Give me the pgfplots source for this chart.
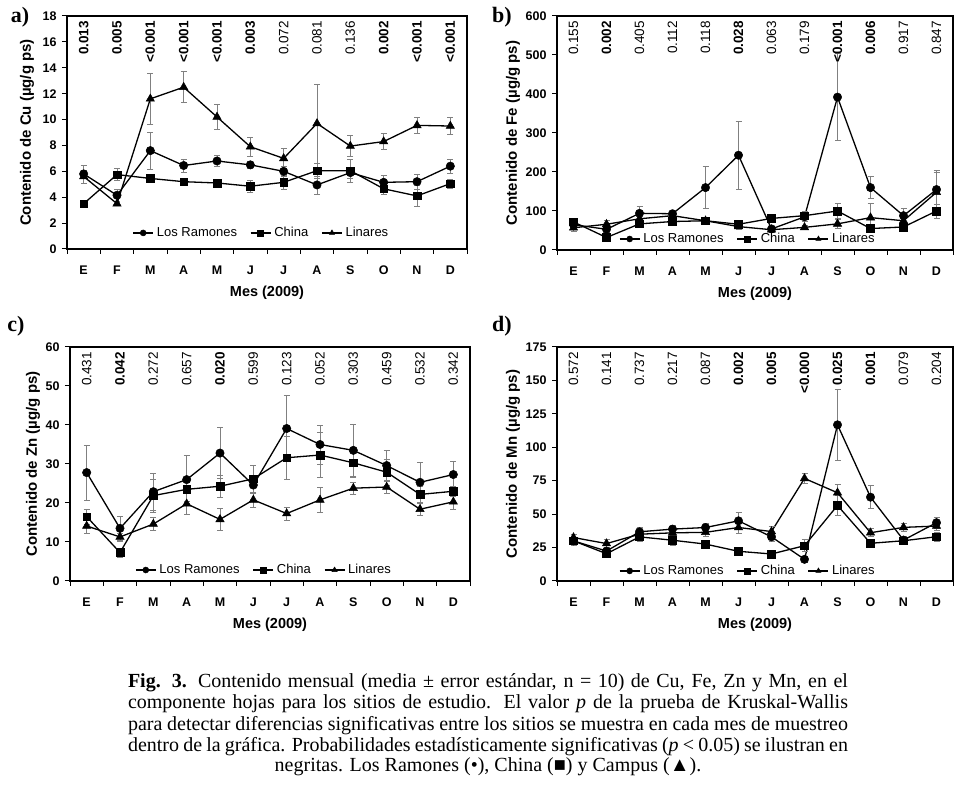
\documentclass[border=0pt]{standalone}
\usepackage{fontspec}
\setmainfont{Liberation Sans}
\newfontfamily\capfont{Liberation Serif}
\usepackage{pgfplots}
\usepackage{pgfplotstable}
\pgfplotsset{compat=1.18}

% x, Los Ramones, err, China, err, Linares, err
\pgfplotstableread{
x lr lre ch che li lie
0 5.8 0.7 3.5 0.1 5.6 0.5
1 4.15 0.5 5.75 0.45 3.5 0.1
2 7.6 1.45 5.45 0.3 11.6 2.0
3 6.45 0.5 5.2 0.3 12.5 1.2
4 6.8 0.4 5.1 0.3 10.2 0.95
5 6.5 0.3 4.85 0.45 7.9 0.75
6 6.0 0.4 5.15 0.55 7.0 0.8
7 4.95 0.7 6.05 0.55 9.7 3.05
8 5.9 0.4 6.05 0.9 7.95 0.8
9 5.15 0.55 4.65 0.45 8.3 0.6
10 5.2 0.55 4.1 0.8 9.55 0.65
11 6.4 0.55 5.05 0.35 9.5 0.65
}\cu
\pgfplotstableread{
x lr lre ch che li lie
0 65 10 72 8 57 8
1 53 12 32 5 66 10
2 94 17 67 7 80 8
3 93 8 73 6 88 8
4 160 54 75 6 75 6
5 243 87 66 10 60 8
6 54 8 81 10 52 6
7 85 12 88 10 58 6
8 392 112 100 20 67 12
9 160 28 55 5 83 38
10 88 20 59 5 75 8
11 155 50 100 18 148 52
}\fe
\pgfplotstableread{
x lr lre ch che li lie
0 27.8 7.1 16.5 2.0 14.1 1.8
1 13.5 3.0 7.3 1.1 11.3 1.0
2 22.9 4.7 21.9 4.2 14.6 1.7
3 26.0 6.2 23.5 3.0 19.8 2.8
4 32.8 6.5 24.3 2.8 15.8 2.9
5 24.6 2.0 26.2 3.5 20.8 2.0
6 39.1 8.5 31.6 5.6 17.3 1.7
7 35.0 5.0 32.3 5.7 20.8 3.1
8 33.5 6.6 30.3 3.7 23.8 1.5
9 29.6 3.9 27.9 3.3 24.1 1.5
10 25.3 5.2 22.2 2.0 18.4 1.5
11 27.3 3.4 23.0 1.2 20.3 1.8
}\zn
\pgfplotstableread{
x lr lre ch che li lie
0 30 3 30 2.5 32.5 2.5
1 22.4 3 20.4 2.5 28 3.5
2 36.8 3 33 3 35 3
3 38.8 3 30.5 4 36 3
4 40 3 27.6 3 36.4 3
5 45 6.5 22.2 3 40 4
6 33 3 20.2 3 37 4
7 16.2 2.5 26.4 4.5 76.7 3.5
8 116.8 26.5 56.5 7.5 66 6.5
9 62.7 8.5 28.2 3 36.1 3
10 30.6 3 30.1 3 40.1 3
11 43.6 4 33.1 3.5 41.1 3
}\mn

\pgfplotsset{
  panel/.style={
    scale only axis,
    clip=false,
    xmin=-0.5, xmax=11.5,
    xtick={-0.5,0.5,1.5,2.5,3.5,4.5,5.5,6.5,7.5,8.5,9.5,10.5,11.5},
    xticklabels={},
    extra x ticks={0,1,2,3,4,5,6,7,8,9,10,11},
    extra x tick labels={E,F,M,A,M,J,J,A,S,O,N,D},
    extra x tick style={major tick length=0pt},
    xtick pos=bottom, ytick pos=left,
    tick align=outside, major tick length=5pt,
    tick style={black, line width=1pt},
    axis line style={line width=1.2pt},
    /pgf/number format/assume math mode=true,
    tick label style={font=\bfseries\fontsize{12.5}{14}\selectfont},
    xticklabel style={anchor=center, yshift=-21pt},
    yticklabel style={anchor=east, xshift=-2pt},
    xlabel={Mes (2009)},
    xlabel style={font=\bfseries\fontsize{14.5}{16}\selectfont, at={(axis description cs:0.5,0)}, anchor=center, yshift=-44pt},
    ylabel style={font=\bfseries\fontsize{15}{17}\selectfont, at={(axis description cs:0,0.5)}, anchor=center},
    legend columns=3,
    legend style={draw=none, fill=none, anchor=center, inner sep=0pt,
      font=\fontsize{13}{15}\selectfont,
      /tikz/every even column/.append style={column sep=11pt},
      /tikz/every odd column/.append style={column sep=1pt}},
    legend image code/.code={\draw[mark repeat=2, mark phase=2, ##1, mark size=3pt]
      plot coordinates {(0pt,0pt) (10pt,0pt) (20pt,0pt)};},
    error bars/y dir=both, error bars/y explicit,
    error bars/error bar style={line width=0.6pt, gray},
    error bars/error mark options={rotate=90, gray, mark size=3pt, line width=0.6pt},
  },
  lr/.style={black, line width=1.3pt, mark=*, mark size=4.2pt, mark options={solid, fill=black, line width=0.5pt}},
  ch/.style={black, line width=1.3pt, mark=square*, mark size=3.8pt, mark options={solid, fill=black, line width=0.5pt}},
  li/.style={black, line width=1.3pt, mark=triangle*, mark size=4.8pt, mark options={solid, fill=black, line width=0.5pt}},
}

% p value label, rotated, hanging from the top of the axis
\newcommand\pv[3]{\node[rotate=90, anchor=east, inner sep=0pt, font=\fontsize{13.5}{15}\selectfont] at ([yshift=-5pt]axis cs:#1,#2) {#3};}

\begin{document}
\begin{tikzpicture}
\useasboundingbox (0,0) rectangle (962pt,796pt);

% a) Cu
\begin{axis}[panel, at={(67pt,547pt)}, anchor=south west, width=400pt, height=233pt,
  ymin=0, ymax=18, ytick={0,2,...,18}, ylabel={Contenido de Cu (µg/g ps)},
  ylabel style={yshift=40pt}, legend style={at={(0.486,0.069)}}]
\addplot[lr] table[x=x, y=lr, y error=lre] {\cu};
\addplot[ch] table[x=x, y=ch, y error=che] {\cu};
\addplot[li] table[x=x, y=li, y error=lie] {\cu};
\legend{Los Ramones, China, Linares}
\pv{0}{18}{\textbf{0.013}} \pv{1}{18}{\textbf{0.005}} \pv{2}{18}{\textbf{<0.001}}
\pv{3}{18}{\textbf{<0.001}} \pv{4}{18}{\textbf{<0.001}} \pv{5}{18}{\textbf{0.003}}
\pv{6}{18}{0.072} \pv{7}{18}{0.081} \pv{8}{18}{0.136}
\pv{9}{18}{\textbf{0.002}} \pv{10}{18}{\textbf{<0.001}} \pv{11}{18}{\textbf{<0.001}}
\end{axis}

% b) Fe
\begin{axis}[panel, at={(557pt,546pt)}, anchor=south west, width=396pt, height=234pt,
  ymin=0, ymax=600, ytick={0,100,...,600}, ylabel={Contenido de Fe (µg/g ps)},
  ylabel style={yshift=44pt}, legend style={at={(0.482,0.047)}}]
\addplot[lr] table[x=x, y=lr, y error=lre] {\fe};
\addplot[ch] table[x=x, y=ch, y error=che] {\fe};
\addplot[li] table[x=x, y=li, y error=lie] {\fe};
\legend{Los Ramones, China, Linares}
\pv{0}{600}{0.155} \pv{1}{600}{\textbf{0.002}} \pv{2}{600}{0.405}
\pv{3}{600}{0.112} \pv{4}{600}{0.118} \pv{5}{600}{\textbf{0.028}}
\pv{6}{600}{0.063} \pv{7}{600}{0.179} \pv{8}{600}{\textbf{<0.001}}
\pv{9}{600}{\textbf{0.006}} \pv{10}{600}{0.917} \pv{11}{600}{0.847}
\end{axis}

% c) Zn
\begin{axis}[panel, at={(70pt,215pt)}, anchor=south west, width=400pt, height=234pt,
  ymin=0, ymax=60, ytick={0,10,...,60}, ylabel={Contenido de Zn (µg/g ps)},
  ylabel style={yshift=37pt}, legend style={at={(0.485,0.047)}}]
\addplot[lr] table[x=x, y=lr, y error=lre] {\zn};
\addplot[ch] table[x=x, y=ch, y error=che] {\zn};
\addplot[li] table[x=x, y=li, y error=lie] {\zn};
\legend{Los Ramones, China, Linares}
\pv{0}{60}{0.431} \pv{1}{60}{\textbf{0.042}} \pv{2}{60}{0.272}
\pv{3}{60}{0.657} \pv{4}{60}{\textbf{0.020}} \pv{5}{60}{0.599}
\pv{6}{60}{0.123} \pv{7}{60}{0.052} \pv{8}{60}{0.303}
\pv{9}{60}{0.459} \pv{10}{60}{0.532} \pv{11}{60}{0.342}
\end{axis}

% d) Mn
\begin{axis}[panel, at={(557pt,215pt)}, anchor=south west, width=396pt, height=234pt,
  ymin=0, ymax=175, ytick={0,25,...,175}, ylabel={Contenido de Mn (µg/g ps)},
  ylabel style={yshift=44pt}, legend style={at={(0.482,0.043)}}]
\addplot[lr] table[x=x, y=lr, y error=lre] {\mn};
\addplot[ch] table[x=x, y=ch, y error=che] {\mn};
\addplot[li] table[x=x, y=li, y error=lie] {\mn};
\legend{Los Ramones, China, Linares}
\pv{0}{175}{0.572} \pv{1}{175}{0.141} \pv{2}{175}{0.737}
\pv{3}{175}{0.217} \pv{4}{175}{0.087} \pv{5}{175}{\textbf{0.002}}
\pv{6}{175}{\textbf{0.005}} \pv{7}{175}{\textbf{<0.000}} \pv{8}{175}{\textbf{0.025}}
\pv{9}{175}{\textbf{0.001}} \pv{10}{175}{0.079} \pv{11}{175}{0.204}
\end{axis}

% panel letters
\node[font=\capfont\bfseries\fontsize{22}{24}\selectfont] at (20pt,779pt) {a)};
\node[font=\capfont\bfseries\fontsize{22}{24}\selectfont] at (502pt,779pt) {b)};
\node[font=\capfont\bfseries\fontsize{22}{24}\selectfont] at (16pt,470pt) {c)};
\node[font=\capfont\bfseries\fontsize{22}{24}\selectfont] at (502pt,470pt) {d)};

% caption
\begin{scope}[every node/.style={anchor=base, inner sep=0pt, font=\capfont\fontsize{20}{21}\selectfont}]
\node at (488pt,108pt) {\makebox[720pt][s]{\textbf{Fig. 3.} Contenido mensual (media ± error estándar, n = 10) de Cu, Fe, Zn y Mn, en el}};
\node at (488pt,87pt) {\makebox[720pt][s]{componente hojas para los sitios de estudio. El valor \textit{p} de la prueba de Kruskal-Wallis}};
\node at (488pt,66pt) {\makebox[720pt][s]{para detectar diferencias significativas entre los sitios se muestra en cada mes de muestreo}};
\node at (488pt,45pt) {\makebox[720pt][s]{dentro de la gráfica. Probabilidades estadísticamente significativas (\textit{p} < 0.05) se ilustran en}};
\node at (488pt,24pt) {negritas. Los Ramones (•), China (■) y Campus (▲).};
\end{scope}
\end{tikzpicture}
\end{document}
